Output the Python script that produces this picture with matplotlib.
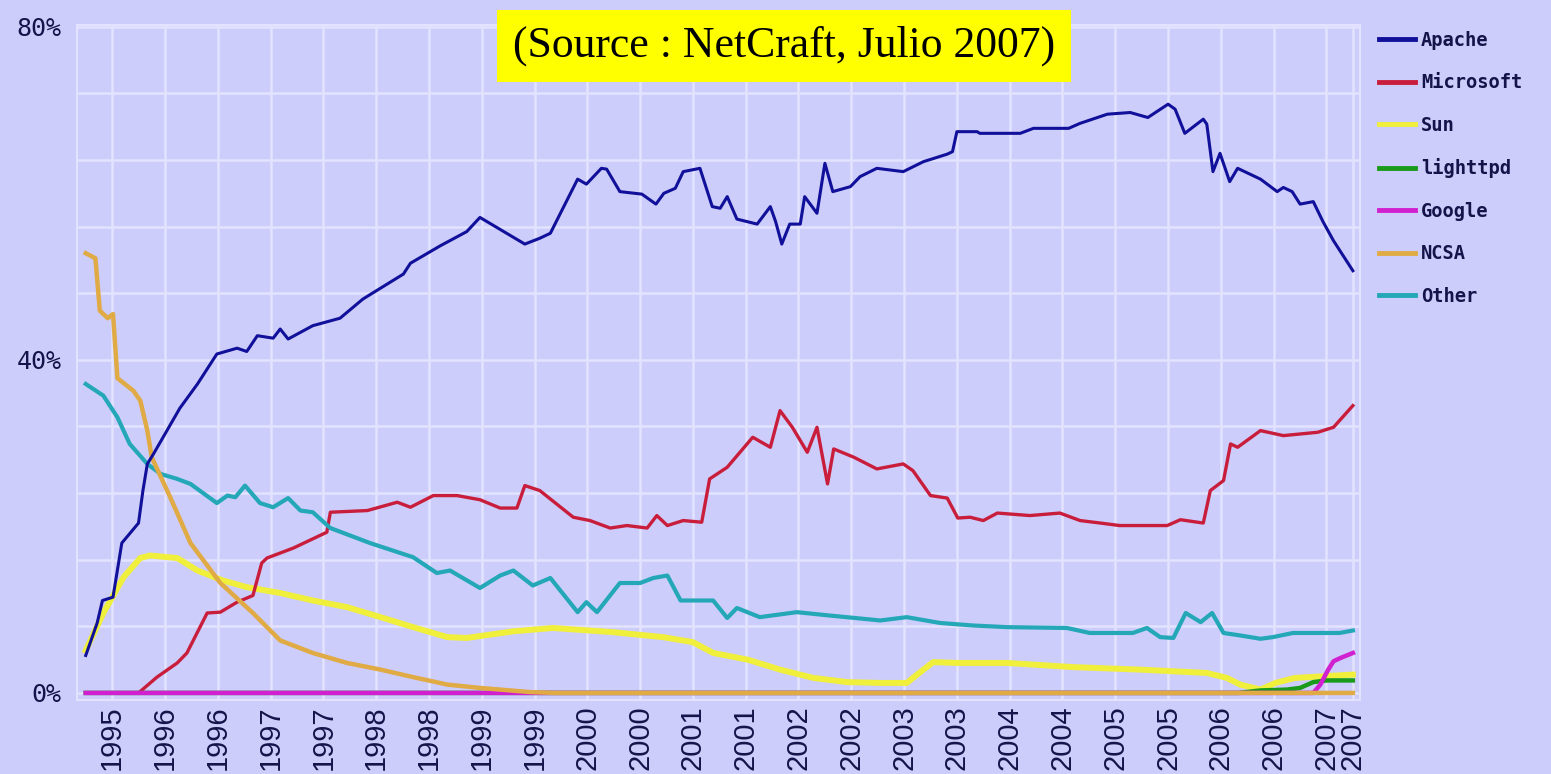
import matplotlib
matplotlib.use("Agg")
import matplotlib.pyplot as plt

# x values are months counted from Aug 1995 (survey start)
apache_m = [0, 1.3, 1.9, 3.1, 4.1, 6.0, 6.5, 7.0, 7.7, 10.7, 12.7, 14.9, 17.2, 18.3, 19.5, 21.3, 22.1,
            23.0, 25.8, 28.9, 31.5, 36.1, 36.9, 40.3, 43.3, 44.8, 49.9, 51.6, 52.8, 55.9, 56.9, 58.6,
            59.2, 60.7, 63.2, 64.8, 65.7, 67.0, 67.9, 69.8, 71.2, 72.1, 72.9, 74.0, 76.3, 77.8, 78.4,
            79.1, 80.0, 81.2, 81.7, 83.1, 84.0, 84.9, 86.9, 88.0, 89.9, 92.9, 95.2, 97.9, 98.5, 99.0,
            101.3, 101.6, 106.2, 107.7, 111.7, 113.0, 116.1, 118.7, 120.7, 123.0, 123.8, 124.9, 127.0,
            127.4, 128.1, 128.9, 130.0, 130.9, 133.5, 135.4, 136.1, 137.1, 138.0, 139.5, 140.6, 141.8, 144.0]
apache_v = [4.5, 8.4, 11.1, 11.5, 18.0, 20.4, 24.3, 27.5, 28.7, 34.2, 37.1, 40.7, 41.4, 41.0, 42.9, 42.6, 43.7,
            42.5, 44.1, 45.0, 47.3, 50.3, 51.6, 53.7, 55.4, 57.1, 53.9, 54.6, 55.2, 61.7, 61.1, 63.0,
            62.9, 60.2, 59.9, 58.7, 60.0, 60.6, 62.6, 63.0, 58.4, 58.2, 59.6, 56.9, 56.3, 58.4, 56.6,
            53.9, 56.3, 56.3, 59.6, 57.6, 63.6, 60.2, 60.8, 62.0, 63.0, 62.6, 63.8, 64.7, 65.0, 67.4,
            67.4, 67.2, 67.2, 67.8, 67.8, 68.4, 69.5, 69.7, 69.1, 70.7, 70.1, 67.2, 68.9,
            68.3, 62.6, 64.8, 61.4, 63.0, 61.7, 60.2, 60.7, 60.2, 58.7, 59.0, 56.6, 54.3, 50.7]

microsoft_m = [0, 6.0, 8.1, 10.4, 11.5, 13.8, 15.3, 17.2, 19.0, 20.0, 20.6, 23.6, 27.4, 27.8, 32.0, 35.4,
               36.9, 39.5, 42.2, 44.8, 47.1, 49.0, 49.9, 51.6, 55.4, 57.3, 59.6, 61.5, 63.8, 64.9, 66.1,
               67.9, 70.0, 70.9, 72.9, 75.8, 77.8, 78.9, 80.3, 82.0, 83.1, 84.3, 85.0, 87.3, 89.9, 92.9,
               94.0, 96.0, 97.9, 99.1, 100.5, 102.0, 103.6, 107.3, 110.7, 113.0, 115.3, 117.5, 122.9,
               124.4, 127.0, 127.8, 129.3, 130.1, 130.9, 133.5, 136.1, 140.0, 141.8, 144.0]
microsoft_v = [0, 0, 1.9, 3.6, 4.8, 9.6, 9.7, 10.9, 11.7, 15.6, 16.2, 17.4, 19.3, 21.7, 21.9, 22.9,
               22.3, 23.7, 23.7, 23.2, 22.2, 22.2, 24.9, 24.3, 21.1, 20.7, 19.8, 20.1, 19.8, 21.3, 20.1,
               20.7, 20.5, 25.7, 27.1, 30.7, 29.5, 33.9, 31.9, 28.9, 31.9, 25.1, 29.3, 28.3, 26.9, 27.5,
               26.7, 23.7, 23.4, 21.0, 21.1, 20.7, 21.6, 21.3, 21.6, 20.7, 20.4, 20.1, 20.1,
               20.8, 20.4, 24.3, 25.5, 29.9, 29.5, 31.5, 30.9, 31.3, 31.9, 34.5]

sun_m = [0, 2.0, 4.3, 6.2, 7.3, 10.4, 12.7, 15.6, 18.3, 22.1, 25.8, 29.7, 33.5, 37.2, 41.1, 43.3, 48.6,
         53.1, 59.9, 65.6, 69.0, 71.3, 75.2, 78.9, 82.7, 86.5, 90.3, 93.3, 95.2, 96.3, 99.1, 104.7,
         112.2, 119.8, 127.4, 129.7, 131.2, 133.5, 135.2, 137.4, 144.0]
sun_v = [5.1, 9.6, 13.9, 16.2, 16.5, 16.2, 14.7, 13.5, 12.7, 12.0, 11.1, 10.3, 9.1, 7.9, 6.7, 6.6, 7.4,
         7.8, 7.3, 6.7, 6.1, 4.8, 4.0, 2.8, 1.8, 1.3, 1.2, 1.2, 2.8, 3.7, 3.6, 3.6,
         3.1, 2.8, 2.4, 1.8, 1.0, 0.4, 1.2, 1.8, 2.2]

lighttpd_m = [0, 131.0, 133.5, 136.5, 138.0, 139.5, 141.0, 144.0]
lighttpd_v = [0, 0, 0.3, 0.4, 0.6, 1.3, 1.5, 1.5]

google_m = [0, 139.5, 140.3, 141.2, 141.8, 142.6, 144.0]
google_v = [0, 0, 1.0, 2.8, 3.8, 4.2, 4.8]

ncsa_m = [0, 1.1, 1.6, 2.5, 3.1, 3.6, 5.4, 6.2, 7.0, 7.5, 9.6, 11.9, 15.3, 19.0, 22.1, 25.8, 29.7,
          33.5, 37.2, 41.1, 44.8, 47.1, 50.5, 53.3, 144.0]
ncsa_v = [52.8, 52.2, 45.9, 45.0, 45.5, 37.8, 36.3, 35.1, 31.5, 28.3, 23.5, 18.0, 13.2, 9.6, 6.3, 4.8, 3.6,
          2.8, 1.9, 1.0, 0.6, 0.4, 0.1, 0, 0]

other_m = [0, 2.0, 3.6, 5.0, 7.0, 8.5, 10.4, 11.9, 14.9, 16.1, 17.0, 18.1, 19.8, 21.3, 23.0, 24.4, 25.8,
           27.8, 32.3, 37.2, 39.9, 41.4, 44.8, 47.1, 48.6, 50.8, 52.8, 55.9, 56.9, 58.1, 60.7, 63.0,
           64.5, 66.1, 67.6, 71.3, 72.9, 74.0, 76.6, 80.8, 84.5, 90.3, 93.3, 97.1, 100.8, 104.7,
           111.5, 114.1, 119.0, 120.6, 122.1, 123.6, 125.0, 126.7, 128.0, 129.3, 131.2, 133.5, 134.9,
           137.2, 142.5, 144.0]
other_v = [37.1, 35.7, 33.1, 29.9, 27.5, 26.3, 25.7, 25.1, 22.8, 23.7, 23.5, 24.9, 22.8, 22.3, 23.4, 21.9, 21.7,
           19.8, 18.0, 16.3, 14.4, 14.7, 12.6, 14.1, 14.7, 12.9, 13.8, 9.7, 10.9, 9.7, 13.2, 13.2,
           13.8, 14.1, 11.1, 11.1, 9.0, 10.2, 9.1, 9.7, 9.3, 8.7, 9.1, 8.4, 8.1, 7.9,
           7.8, 7.2, 7.2, 7.8, 6.7, 6.6, 9.6, 8.5, 9.6, 7.2, 6.9, 6.5, 6.7,
           7.2, 7.2, 7.5]

tick_months = [3, 9, 15, 21, 27, 33, 39, 45, 51, 57, 63, 69, 75, 81, 87, 93, 99, 105, 111, 117,
               123, 129, 135, 141, 144]
tick_labels = ["1995", "1996", "1996", "1997", "1997", "1998", "1998", "1999", "1999", "2000",
               "2000", "2001", "2001", "2002", "2002", "2003", "2003", "2004", "2004", "2005",
               "2005", "2006", "2006", "2007", "2007"]

bg = "#cdcdfb"
grid_c = "#e3e3ff"
txt_c = "#14144a"

fig = plt.figure(figsize=(15.51, 7.74), dpi=100, facecolor=bg)
ax = fig.add_axes([0.0496, 0.0956, 0.8272, 0.872], facecolor=bg)

# draw order: later ones on top
ax.plot(microsoft_m, microsoft_v, color="#c81e3c", lw=2.4, label="Microsoft", zorder=3)
ax.plot(sun_m, sun_v, color="#efef3c", lw=4.3, label="Sun", zorder=2)
ax.plot(lighttpd_m, lighttpd_v, color="#1a9a1a", lw=3.2, label="lighttpd", zorder=4)
ax.plot(google_m, google_v, color="#d020d0", lw=3.2, label="Google", zorder=5)
ax.plot(ncsa_m, ncsa_v, color="#e0aa45", lw=3.2, label="NCSA", zorder=6)
ax.plot(other_m, other_v, color="#24a8b8", lw=3.0, label="Other", zorder=3)
ax.plot(apache_m, apache_v, color="#10109a", lw=2.2, label="Apache", zorder=7)

ax.set_xlim(-1, 144.8)
ax.set_ylim(-0.85, 80.2)

yt = list(range(0, 81, 8))
ax.set_yticks(yt)
ax.set_yticklabels([f"{v}%" if v in (0, 40, 80) else "" for v in yt],
                   family="DejaVu Sans Mono", fontsize=18, color=txt_c)
ax.set_xticks(tick_months)
ax.set_xticklabels(tick_labels, rotation=90, family="Liberation Sans", fontsize=21, color=txt_c)
ax.tick_params(axis="both", length=0)
ax.tick_params(axis="y", pad=11)
ax.tick_params(axis="x", pad=4)
ax.grid(True, color=grid_c, lw=1.8)
ax.set_axisbelow(True)
for s in ax.spines.values():
    s.set_color(grid_c)
    s.set_linewidth(1.5)

handles, labels = ax.get_legend_handles_labels()
order = ["Apache", "Microsoft", "Sun", "lighttpd", "Google", "NCSA", "Other"]
hmap = dict(zip(labels, handles))
leg = fig.legend([hmap[k] for k in order], order, loc="upper left",
                 bbox_to_anchor=(1362 / 1551, 1 - 14 / 774), frameon=False,
                 prop={"family": "DejaVu Sans Mono", "size": 13.5, "weight": "bold"},
                 handlelength=1.9, handletextpad=0.35, labelspacing=1.25)
for t in leg.get_texts():
    t.set_color(txt_c)
for l in leg.get_lines():
    l.set_linewidth(3.5)

fig.text(784 / 1551, 1 - 46 / 774, "(Source : NetCraft, Julio 2007)", family="Liberation Serif",
         fontsize=31.5, ha="center", va="center", color="black",
         bbox=dict(facecolor="#ffff00", edgecolor="none", boxstyle="square,pad=0.36"))

fig.savefig("out.png", dpi=100, facecolor=bg)
